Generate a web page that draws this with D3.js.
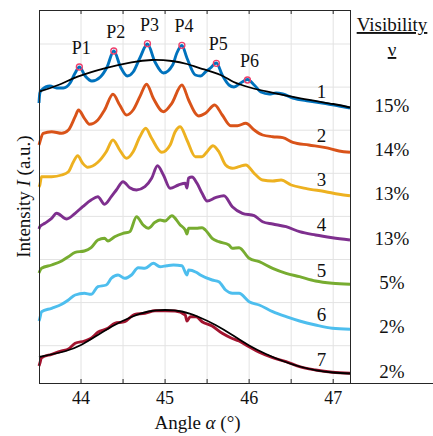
<!DOCTYPE html>
<html>
<head>
<meta charset="utf-8">
<script src="https://cdn.jsdelivr.net/npm/d3@7"></script>
<style>
    body { margin: 0; background: #fff; }
    svg text { font-family: "Liberation Serif", "Times New Roman", "DejaVu Serif", serif; fill: #111; }
</style>
</head>
<body>
<div id="chart"></div>
<script>
var curve1 = [[43.50,280],[43.51,290],[43.53,293],[43.63,297],[43.71,295],[43.79,295],[43.87,300],[43.93,310],[43.98,316],
    [44.05,307],[44.13,302],[44.23,306],[44.31,316],[44.39,332],[44.47,316],[44.55,307],[44.62,311],[44.70,325],[44.79,339],
    [44.88,321],[44.98,310],[45.09,318],[45.14,330],[45.20,337.5],[45.26,325],[45.36,308],[45.42,307],[45.48,311],[45.54,315],
    [45.61,320],[45.68,308],[45.76,298],[45.82,296],[45.90,300],[45.98,303.5],[46.06,298],[46.14,291],[46.24,289],[46.32,290],
    [46.40,289],[46.52,285],[46.71,282],[46.91,279.5],[47.07,277],[47.20,275]];
var curve2 = [[43.50,238],[43.51,241],[43.55,249.7],[43.65,251.3],[43.77,249.7],[43.85,253],[43.93,266.3],[43.97,273],[44.04,264.7],
    [44.10,258.7],[44.20,263],[44.28,273],[44.38,288.7],[44.46,278],[44.54,268],[44.62,273],[44.70,286.3],[44.78,298.7],
    [44.86,284.7],[44.98,271.3],[45.08,279.7],[45.20,298],[45.28,283],[45.37,268.7],[45.40,267],[45.48,269.7],[45.59,278],
    [45.68,268],[45.78,257.3],[45.86,257.3],[45.96,259.7],[46.06,253],[46.16,248],[46.28,246.3],[46.40,245.3],[46.52,240.7],
    [46.71,238],[46.91,235.3],[47.07,232],[47.20,230.7]];
var curve3 = [[43.50,196],[43.51,198],[43.53,206.3],[43.65,206.3],[43.77,208],[43.85,211.3],[43.91,221.3],[43.96,227.3],[44.02,219.7],
    [44.08,215.7],[44.20,220.7],[44.30,231.3],[44.38,243],[44.46,233],[44.54,224.7],[44.62,231.3],[44.70,246.3],[44.77,254.7],
    [44.84,244.7],[44.96,230.7],[45.06,238],[45.12,251.3],[45.18,256.3],[45.26,243],[45.36,226.3],[45.44,226.3],[45.50,231.3],
    [45.57,237.3],[45.64,231.3],[45.72,218],[45.80,214.7],[45.88,216.3],[45.96,218],[46.06,209.7],[46.16,203],[46.28,202],
    [46.38,203],[46.50,198],[46.67,194.7],[46.91,191.3],[47.07,188.7],[47.20,187.3]];
var curve4 = [[43.50,154],[43.51,156.3],[43.57,159.7],[43.65,164.7],[43.71,169.7],[43.83,164],[43.93,169.7],[44.02,176.3],[44.12,183],
    [44.20,186.3],[44.28,178.7],[44.36,186.3],[44.42,193],[44.50,201.3],[44.58,195.3],[44.66,193],[44.76,196.3],[44.84,204.7],
    [44.91,217.3],[44.98,208],[45.06,194.7],[45.16,198],[45.24,199.7],[45.26,195],[45.28,205],[45.32,206],[45.38,199.7],
    [45.44,189.7],[45.50,182],[45.60,185.3],[45.70,187.3],[45.80,176.3],[45.92,169.7],[46.06,167.3],[46.16,161.3],[46.28,159],
    [46.44,156.3],[46.60,151.3],[46.79,148],[46.99,145.3],[47.20,143]];
var curve5 = [[43.50,110],[43.51,112],[43.53,114.7],[43.65,118],[43.77,122],[43.85,126.3],[43.93,130.7],[44.04,132],[44.12,135.3],
    [44.20,143],[44.28,144.7],[44.32,142],[44.40,146.3],[44.50,149.7],[44.58,151.3],[44.66,166.3],[44.74,158],[44.80,154.7],
    [44.88,160.7],[44.94,163],[45.00,162],[45.08,167.3],[45.18,158],[45.24,153],[45.26,149],[45.28,154.7],[45.37,154.7],
    [45.44,155.3],[45.48,153],[45.56,144.7],[45.64,141.3],[45.76,138],[45.80,134.7],[45.88,135.3],[46.00,124.7],[46.12,121.3],
    [46.28,114.7],[46.44,109.7],[46.60,106.3],[46.79,102],[46.99,99.7],[47.20,98.7]];
var curve6 = [[43.50,62],[43.51,64.7],[43.53,71.3],[43.65,74.7],[43.77,78.7],[43.85,83],[43.93,88],[44.04,89.7],[44.12,88.7],
    [44.20,96.3],[44.30,98],[44.36,104.7],[44.44,108],[44.52,104.7],[44.60,108],[44.68,115.3],[44.76,114.7],[44.86,119.7],
    [44.94,116.3],[45.02,117.3],[45.10,118],[45.20,117.3],[45.26,108],[45.28,113],[45.37,110.7],[45.42,108],[45.56,103],
    [45.64,101.3],[45.72,93],[45.80,89.7],[45.88,89.7],[46.00,81.3],[46.12,78],[46.28,71.3],[46.44,66.3],[46.60,62],
    [46.79,58],[46.99,54.7],[47.20,53.7]];
var curve7 = [[43.50,17],[43.51,19.7],[43.53,25.3],[43.65,28.7],[43.77,32],[43.85,34],[43.93,39.7],[44.04,42],[44.12,44.7],
    [44.20,50.7],[44.32,54.7],[44.40,59.7],[44.52,61.3],[44.64,68.7],[44.76,69.7],[44.88,72.3],[45.00,72.3],[45.12,72],
    [45.24,68],[45.26,62],[45.30,66.3],[45.37,66.3],[45.44,61.3],[45.56,57],[45.68,49.7],[45.78,45.3],[45.88,42],[46.00,36.3],
    [46.12,30.7],[46.28,25.3],[46.44,21.3],[46.60,16.3],[46.79,13],[46.99,10.7],[47.20,9.7]];

// Envelope fits (black)
var fit1 = [[43.50,291.3],[43.73,298],[43.96,306.3],[44.28,314.7],[44.60,320.7],[44.84,323],[45.08,322],[45.26,319],[45.42,314.7],
    [45.66,308],[45.81,301.3],[46.01,295.5],[46.22,291.3],[46.61,284.7],[47.00,279],[47.20,275.5]];
var fit7 = [[43.50,26],[43.80,31.5],[44.00,38],[44.20,48],[44.40,58],[44.60,66],[44.80,71.5],[45.00,73],[45.20,71.5],[45.40,66],
    [45.60,58],[45.80,48],[46.00,37.5],[46.20,29],[46.40,22],[46.60,16.5],[46.80,12.7],[47.00,10.5],[47.20,9.5]];

// Peaks marked on curve 1
var peakNames = ["P1", "P2", "P3", "P4", "P5", "P6"];
var peakAngles = [43.98, 44.39, 44.79, 45.20, 45.61, 45.98];
var peakValues = [316, 332, 339.3, 337.7, 319.7, 303];

var curveNames = ["1", "2", "3", "4", "5", "6", "7"];
var visibility = ["15%", "14%", "13%", "13%", "5%", "2%", "2%"];

var xTicks = [44, 45, 46, 47];
var xGrid = [44, 44.5, 45, 45.5, 46, 46.5, 47];
var yGrid = [37.3, 80.4, 123.5, 166.6, 209.7, 252.8, 295.9, 339];

(function () {
    var W = 433, H = 436,
        serif = "Liberation Serif, Times New Roman, DejaVu Serif, serif",
        margin = {top: 10, left: 39, bottom: 383, plotRight: 350},
        colors = ["#0072BD", "#D95319", "#EDB120", "#7E2F8E", "#77AC30", "#4DBEEE", "#A2142F"],
        curves = [curve1, curve2, curve3, curve4, curve5, curve6, curve7];

    var svg = d3.select("#chart").append("svg")
        .attr("width", W)
        .attr("height", H)
        .attr("font-family", serif);

    var x = d3.scaleLinear().domain([43.5, 47.2]).range([margin.left, margin.plotRight]);
    var y = d3.scaleLinear().domain([0, 373]).range([margin.bottom, margin.top]);

    // Grid
    svg.append("g").selectAll("line").data(xGrid).enter().append("line")
        .attr("x1", d => x(d)).attr("x2", d => x(d))
        .attr("y1", margin.top).attr("y2", margin.bottom)
        .style("stroke", "#e3e3e3").style("stroke-width", 1);
    svg.append("g").selectAll("line").data(yGrid).enter().append("line")
        .attr("x1", margin.left).attr("x2", margin.plotRight)
        .attr("y1", d => y(d)).attr("y2", d => y(d))
        .style("stroke", "#e3e3e3").style("stroke-width", 1);

    // Data lines
    var line = d3.line()
        .x(d => x(d[0]))
        .y(d => y(d[1]))
        .curve(d3.curveMonotoneX);

    var plot = svg.append("g");
    curves.forEach(function (c, i) {
        plot.append("path")
            .datum(c)
            .attr("d", line)
            .style("fill", "none")
            .style("stroke", colors[i])
            .style("stroke-width", 2.9)
            .style("stroke-linejoin", "round");
    });

    var fitLine = d3.line()
        .x(d => x(d[0]))
        .y(d => y(d[1]))
        .curve(d3.curveNatural);
    [fit1, fit7].forEach(function (f) {
        plot.append("path")
            .datum(f)
            .attr("d", fitLine)
            .style("fill", "none")
            .style("stroke", "#000")
            .style("stroke-width", 1.8);
    });

    // Peak markers + labels
    plot.selectAll(".peak").data(peakAngles).enter().append("circle")
        .attr("cx", d => x(d))
        .attr("cy", (d, i) => y(peakValues[i]))
        .attr("r", 3)
        .style("fill", "none")
        .style("stroke", "#EE3F6B")
        .style("stroke-width", 1.3);
    svg.selectAll(".peakLabel").data(peakNames).enter().append("text")
        .attr("x", (d, i) => x(peakAngles[i]) + 2)
        .attr("y", (d, i) => y(peakValues[i]) - 13)
        .attr("text-anchor", "middle")
        .style("font-size", "18px")
        .text(d => d);

    // Curve numbers
    var numAngle = 46.86;
    svg.selectAll(".num").data(curveNames).enter().append("text")
        .attr("x", x(numAngle))
        .attr("y", function (d, i) {
            var c = curves[i], v = c[c.length - 1][1];
            for (var k = 1; k < c.length; k++) {
                if (c[k][0] >= numAngle) {
                    var t = (numAngle - c[k - 1][0]) / (c[k][0] - c[k - 1][0]);
                    v = c[k - 1][1] + t * (c[k][1] - c[k - 1][1]);
                    break;
                }
            }
            return y(v) - 5;
        })
        .attr("text-anchor", "middle")
        .style("font-size", "19px")
        .text(d => d);

    // Axes frame
    var frame = svg.append("g").style("stroke", "#262626").style("stroke-width", 1);
    frame.append("line").attr("x1", margin.left).attr("x2", W).attr("y1", margin.bottom + 0.5).attr("y2", margin.bottom + 0.5);
    frame.append("line").attr("x1", margin.left).attr("x2", margin.plotRight).attr("y1", margin.top + 0.5).attr("y2", margin.top + 0.5);
    frame.append("line").attr("x1", margin.left + 0.5).attr("x2", margin.left + 0.5).attr("y1", margin.top).attr("y2", margin.bottom);
    frame.append("line").attr("x1", margin.plotRight + 0.5).attr("x2", margin.plotRight + 0.5).attr("y1", margin.top).attr("y2", margin.bottom);

    frame.selectAll(".tb").data(xGrid).enter().append("line")
        .attr("x1", d => x(d)).attr("x2", d => x(d))
        .attr("y1", margin.bottom).attr("y2", margin.bottom - 4);
    frame.selectAll(".tt").data(xGrid).enter().append("line")
        .attr("x1", d => x(d)).attr("x2", d => x(d))
        .attr("y1", margin.top).attr("y2", margin.top + 4);

    svg.selectAll(".xtick").data(xTicks).enter().append("text")
        .attr("x", d => x(d))
        .attr("y", 404)
        .attr("text-anchor", "middle")
        .style("font-size", "18px")
        .text(d => d);

    // Axis titles
    var xl = svg.append("text")
        .attr("x", (margin.left + margin.plotRight) / 2 + 3)
        .attr("y", 429)
        .attr("text-anchor", "middle")
        .style("font-size", "19px");
    xl.append("tspan").text("Angle ");
    xl.append("tspan").style("font-style", "italic").text("α");
    xl.append("tspan").text(" (°)");

    var yl = svg.append("text")
        .attr("transform", "translate(30," + (margin.top + margin.bottom) / 2 + ") rotate(-90)")
        .attr("text-anchor", "middle")
        .style("font-size", "19px");
    yl.append("tspan").text("Intensity ");
    yl.append("tspan").style("font-style", "italic").text("I");
    yl.append("tspan").text(" (a.u.)");

    // Visibility column
    var colX = 392;
    svg.append("text").attr("x", colX).attr("y", 31).attr("text-anchor", "middle")
        .style("font-size", "19px").style("text-decoration", "underline").text("Visibility");
    svg.append("text").attr("x", colX).attr("y", 56).attr("text-anchor", "middle")
        .style("font-size", "19px").style("text-decoration", "underline").text("ν");
    svg.selectAll(".vis").data(visibility).enter().append("text")
        .attr("x", colX)
        .attr("y", (d, i) => 111.7 + i * 44.3)
        .attr("text-anchor", "middle")
        .style("font-size", "19px")
        .text(d => d);
})();
</script>
</body>
</html>
